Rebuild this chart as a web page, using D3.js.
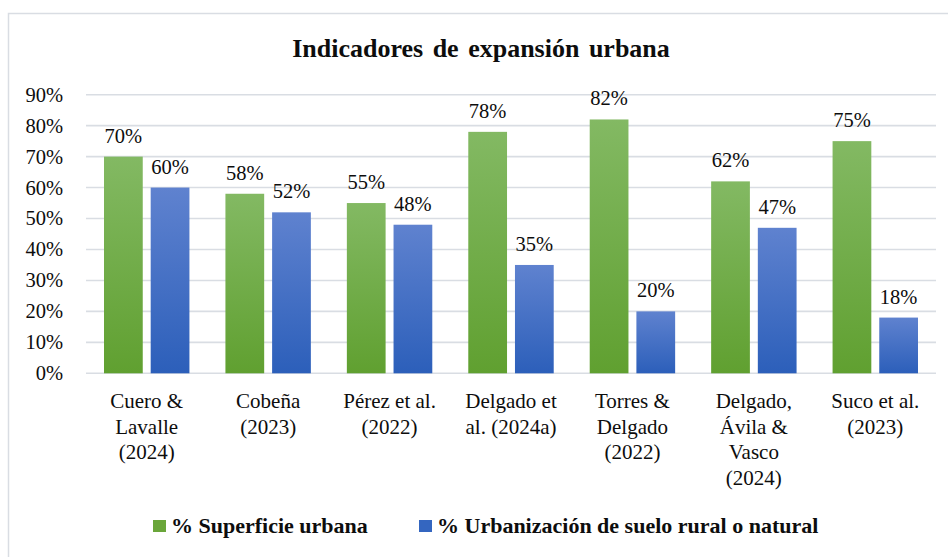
<!DOCTYPE html>
<html>
<head>
<meta charset="utf-8">
<script src="https://cdn.jsdelivr.net/npm/d3@7"></script>
<style>
  body { margin: 0; background: #fff; }
</style>
</head>
<body>
<div id="chart"></div>
<script>
const categories = [
    'Cuero &\nLavalle\n(2024)',
    'Cobeña\n(2023)',
    'Pérez et al.\n(2022)',
    'Delgado et\nal. (2024a)',
    'Torres &\nDelgado\n(2022)',
    'Delgado,\nÁvila &\nVasco\n(2024)',
    'Suco et al.\n(2023)'
];
const seriesNames = ['% Superficie urbana', '% Urbanización de suelo rural o natural'];
const superficieUrbana = [70, 58, 55, 78, 82, 62, 75];
const sueloRural = [60, 52, 48, 35, 20, 47, 18];
const yTicks = [0, 10, 20, 30, 40, 50, 60, 70, 80, 90];

const W = 948, H = 557;
const plot = { left: 86, right: 936, top: 94.7, bottom: 373.3 };
const FONT = '"Liberation Serif"';
const INK = '#0d0d0d';

const data = categories.map((c, i) => ({
    cat: c,
    values: [
        { key: seriesNames[0], v: superficieUrbana[i] },
        { key: seriesNames[1], v: sueloRural[i] }
    ]
}));

const svg = d3.select('#chart').append('svg')
    .attr('width', W)
    .attr('height', H);

// gradients for the bars
const defs = svg.append('defs');
const grads = [
    { id: 'gGreen', top: '#83b963', bottom: '#60a030' },
    { id: 'gBlue', top: '#5f82cf', bottom: '#2c5fba' }
];
grads.forEach(g => {
    const lg = defs.append('linearGradient')
        .attr('id', g.id)
        .attr('x1', 0).attr('y1', 0).attr('x2', 0).attr('y2', 1);
    lg.append('stop').attr('offset', '0%').attr('stop-color', g.top);
    lg.append('stop').attr('offset', '100%').attr('stop-color', g.bottom);
});

// chart frame
svg.append('rect')
    .attr('x', 8.5).attr('y', 13.5)
    .attr('width', W + 20).attr('height', H + 20)
    .attr('fill', 'none')
    .attr('stroke', '#d9dde3')
    .attr('stroke-width', 1.5);

const x0 = d3.scaleBand()
    .domain(categories)
    .range([plot.left, plot.right]);

const x1 = d3.scaleBand()
    .domain(seriesNames)
    .range([18, x0.bandwidth() - 18])
    .paddingInner(0.17);

const y = d3.scaleLinear()
    .domain([0, 90])
    .range([plot.bottom, plot.top]);

const color = d3.scaleOrdinal()
    .domain(seriesNames)
    .range(['url(#gGreen)', 'url(#gBlue)']);
const legendColor = d3.scaleOrdinal()
    .domain(seriesNames)
    .range(['#6aa63a', '#3466c0']);

// gridlines
svg.append('g')
    .selectAll('line')
    .data(yTicks)
    .enter().append('line')
    .attr('x1', plot.left)
    .attr('x2', plot.right)
    .attr('y1', d => y(d))
    .attr('y2', d => y(d))
    .attr('stroke', '#d9dde3')
    .attr('stroke-width', 1.6);

// y tick labels
svg.append('g')
    .selectAll('text')
    .data(yTicks)
    .enter().append('text')
    .attr('x', 63)
    .attr('y', d => y(d))
    .attr('dy', '0.34em')
    .attr('text-anchor', 'end')
    .style('font-family', FONT)
    .style('font-size', '20.5px')
    .style('fill', INK)
    .text(d => d + '%');

// bars
const groups = svg.append('g')
    .selectAll('g')
    .data(data)
    .enter().append('g')
    .attr('transform', d => 'translate(' + x0(d.cat) + ',0)');

groups.selectAll('rect')
    .data(d => d.values)
    .enter().append('rect')
    .attr('x', d => x1(d.key))
    .attr('y', d => y(d.v))
    .attr('width', x1.bandwidth())
    .attr('height', d => y(0) - y(d.v))
    .attr('fill', d => color(d.key));

// value labels
groups.selectAll('text')
    .data(d => d.values)
    .enter().append('text')
    .attr('x', d => x1(d.key) + x1.bandwidth() / 2)
    .attr('y', d => y(d.v) - 14)
    .attr('text-anchor', 'middle')
    .style('font-family', FONT)
    .style('font-size', '20.5px')
    .style('fill', INK)
    .text(d => d.v + '%');

// category labels
const catLabels = svg.append('g')
    .selectAll('text')
    .data(categories)
    .enter().append('text')
    .attr('x', d => x0(d) + x0.bandwidth() / 2)
    .attr('y', 408)
    .attr('text-anchor', 'middle')
    .style('font-family', FONT)
    .style('font-size', '21px')
    .style('fill', INK);

catLabels.selectAll('tspan')
    .data(d => d.split('\n'))
    .enter().append('tspan')
    .attr('x', function() { return d3.select(this.parentNode).attr('x'); })
    .attr('dy', (d, i) => i === 0 ? 0 : 25.5)
    .text(d => d);

// title
svg.append('text')
    .attr('x', 481)
    .attr('y', 57)
    .attr('text-anchor', 'middle')
    .style('font-family', FONT)
    .style('font-size', '26px')
    .style('font-weight', 'bold')
    .style('word-spacing', '3px')
    .style('fill', INK)
    .text('Indicadores de expansión urbana');

// legend
const legendX = [153, 419];
const legend = svg.append('g')
    .selectAll('g')
    .data(seriesNames)
    .enter().append('g')
    .attr('transform', (d, i) => 'translate(' + legendX[i] + ',520)');

legend.append('rect')
    .attr('width', 13)
    .attr('height', 12)
    .attr('fill', d => legendColor(d));

legend.append('text')
    .attr('x', 18)
    .attr('y', 13)
    .style('font-family', FONT)
    .style('font-size', '22px')
    .style('font-weight', 'bold')
    .style('fill', INK)
    .text(d => d);
</script>
</body>
</html>
